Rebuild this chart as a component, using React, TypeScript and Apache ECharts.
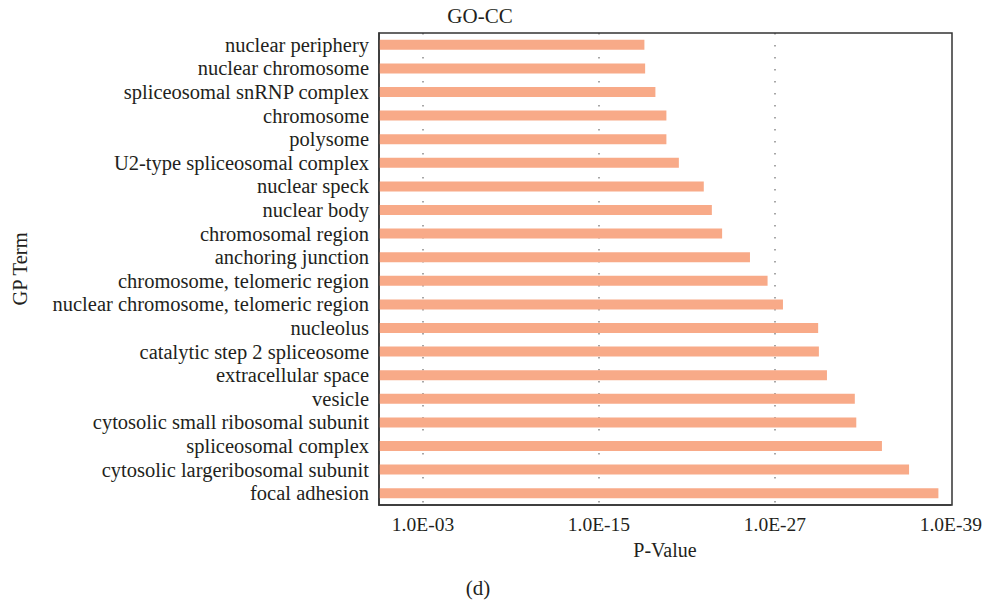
import React, { useEffect, useRef } from "react";
import * as echarts from "echarts";

const categories = [
  "nuclear periphery",
  "nuclear chromosome",
  "spliceosomal snRNP complex",
  "chromosome",
  "polysome",
  "U2-type spliceosomal complex",
  "nuclear speck",
  "nuclear body",
  "chromosomal region",
  "anchoring junction",
  "chromosome, telomeric region",
  "nuclear chromosome, telomeric region",
  "nucleolus",
  "catalytic step 2 spliceosome",
  "extracellular space",
  "vesicle",
  "cytosolic small ribosomal subunit",
  "spliceosomal complex",
  "cytosolic largeribosomal subunit",
  "focal adhesion",
];

// -log10(P-value)
const negLogP = [
  18.1, 18.15, 18.85, 19.6, 19.6, 20.45, 22.15, 22.7, 23.4, 25.3, 26.5, 27.55,
  29.95, 30.0, 30.55, 32.45, 32.55, 34.3, 36.15, 38.15,
];

const tickValues = [3, 15, 27, 39];
const tickLabels = ["1.0E-03", "1.0E-15", "1.0E-27", "1.0E-39"];
const gridValues = [3, 15, 27];

const FONT = "'Liberation Serif', 'DejaVu Serif', serif";
const TEXT = "#231f20";

export default function App() {
  const ref = useRef<HTMLDivElement>(null);
  useEffect(() => {
    if (!ref.current) return;
    const chart = echarts.init(ref.current, undefined, { renderer: "svg" });
    chart.setOption({
      animation: false,
      backgroundColor: "#ffffff",
      textStyle: { fontFamily: FONT, color: TEXT },
      graphic: [
        {
          type: "text",
          x: 480,
          y: 16,
          style: {
            text: "GO-CC",
            font: `21px ${FONT}`,
            fill: TEXT,
            textAlign: "center",
            textVerticalAlign: "middle",
          },
        },
        {
          type: "text",
          x: 478,
          y: 588,
          style: {
            text: "(d)",
            font: `21px ${FONT}`,
            fill: TEXT,
            textAlign: "center",
            textVerticalAlign: "middle",
          },
        },
        {
          type: "rect",
          shape: { x: 379, y: 33, width: 573, height: 472 },
          style: { fill: "none", stroke: "#333", lineWidth: 1.5 },
          silent: true,
          z: 10,
        },
      ],
      grid: { left: 379, top: 33, right: 33, bottom: 98, containLabel: false },
      xAxis: {
        type: "value",
        min: 0,
        max: 39,
        name: "P-Value",
        nameLocation: "middle",
        nameGap: 35,
        nameTextStyle: { fontFamily: FONT, fontSize: 20, color: TEXT },
        axisLine: { show: true, lineStyle: { color: "#333", width: 1.5 } },
        axisTick: { show: false, customValues: tickValues },
        splitLine: { show: false },
        axisLabel: {
          customValues: tickValues,
          fontFamily: FONT,
          fontSize: 19.5,
          color: TEXT,
          margin: 9,
          hideOverlap: false,
          formatter: (v: number) => {
            const i = tickValues.indexOf(Math.round(v));
            return i >= 0 ? tickLabels[i] : "";
          },
        },
      },
      yAxis: {
        type: "category",
        data: categories,
        inverse: true,
        name: "GP Term",
        nameLocation: "middle",
        nameGap: 349,
        nameRotate: 90,
        nameTextStyle: { fontFamily: FONT, fontSize: 20.5, color: TEXT },
        axisLine: { show: true, lineStyle: { color: "#333", width: 1.5 } },
        axisTick: { show: false },
        axisLabel: {
          interval: 0,
          hideOverlap: false,
          fontFamily: FONT,
          fontSize: 20.5,
          color: TEXT,
          margin: 10,
        },
      },
      series: [
        {
          type: "bar",
          data: negLogP,
          barWidth: 10,
          z: 3,
          itemStyle: { color: "#f8aa88" },
          markLine: {
            silent: true,
            symbol: "none",
            z: 1,
            label: { show: false },
            lineStyle: { color: "#8a8a8a", type: [1.5, 10.5], width: 1.5 },
            data: gridValues.map((v) => ({ xAxis: v })),
          },
        },
      ],
    } as any);
    return () => chart.dispose();
  }, []);
  return (
    <div
      ref={ref}
      style={{ position: "fixed", left: 0, top: 0, width: 985, height: 603 }}
    />
  );
}
